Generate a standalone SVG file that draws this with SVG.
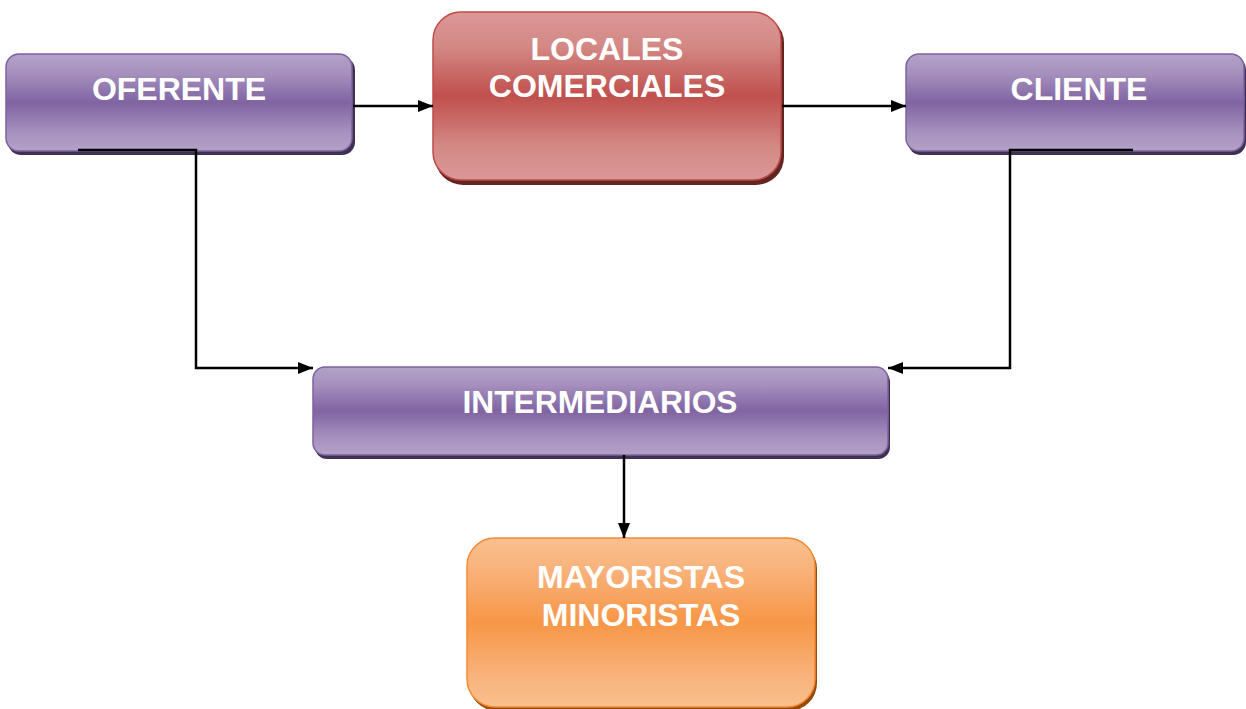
<svg xmlns="http://www.w3.org/2000/svg" width="1246" height="709" viewBox="0 0 1246 709">
<defs>
<linearGradient id="gPurple" x1="0" y1="0" x2="0" y2="1">
<stop offset="0" stop-color="#b3a2c8"/>
<stop offset="0.2" stop-color="#a690be"/>
<stop offset="0.5" stop-color="#8064a2"/>
<stop offset="0.8" stop-color="#a690be"/>
<stop offset="1" stop-color="#b3a2c8"/>
</linearGradient>
<linearGradient id="gRed" x1="0" y1="0" x2="0" y2="1">
<stop offset="0" stop-color="#db9896"/>
<stop offset="0.2" stop-color="#d38985"/>
<stop offset="0.5" stop-color="#c0504d"/>
<stop offset="0.8" stop-color="#d38985"/>
<stop offset="1" stop-color="#db9896"/>
</linearGradient>
<linearGradient id="gOrange" x1="0" y1="0" x2="0" y2="1">
<stop offset="0" stop-color="#f9c08f"/>
<stop offset="0.2" stop-color="#f8b179"/>
<stop offset="0.5" stop-color="#f79646"/>
<stop offset="0.8" stop-color="#f8b179"/>
<stop offset="1" stop-color="#f9c08f"/>
</linearGradient>
<marker id="arrow" markerWidth="15" markerHeight="12" refX="15" refY="6" orient="auto" markerUnits="userSpaceOnUse">
<path d="M0,0 L15,6 L0,12 Z" fill="#000"/>
</marker>
</defs>
<style>
.lbl{font-family:"Liberation Sans",Arial,sans-serif;font-weight:bold;font-size:32px;fill:#fff;text-anchor:middle}
.conn{fill:none;stroke:#000;stroke-width:2.5}
.pShadow{fill:#3f3151}
.rShadow{fill:#632523}
.oShadow{fill:#984807}
.pBox{fill:url(#gPurple);stroke:#7d61a0;stroke-width:1.5}
.rBox{fill:url(#gRed);stroke:#be4b48;stroke-width:1.5}
.oBox{fill:url(#gOrange);stroke:#f38b35;stroke-width:1.5}
</style>
<rect width="1246" height="709" fill="#fff"/>

<g id="oferente">
<rect class="pShadow" x="8" y="57" width="347" height="98" rx="13"/>
<rect class="pBox" x="6" y="54" width="346" height="97" rx="13"/>
<text class="lbl" x="179" y="100">OFERENTE</text>
</g>

<g id="locales">
<rect class="rShadow" x="435" y="15" width="349" height="170" rx="28"/>
<rect class="rBox" x="433" y="12" width="348" height="168" rx="28"/>
<text class="lbl" x="607" y="60">LOCALES</text>
<text class="lbl" x="607" y="97">COMERCIALES</text>
</g>

<g id="cliente">
<rect class="pShadow" x="908" y="57" width="338" height="98" rx="13"/>
<rect class="pBox" x="906" y="54" width="338" height="97" rx="13"/>
<text class="lbl" x="1079" y="100">CLIENTE</text>
</g>

<g id="intermediarios">
<rect class="pShadow" x="315" y="370" width="575" height="89" rx="12"/>
<rect class="pBox" x="313" y="367" width="575" height="88" rx="12"/>
<text class="lbl" x="600" y="413" textLength="275" lengthAdjust="spacingAndGlyphs">INTERMEDIARIOS</text>
</g>

<g id="mayoristas">
<rect class="oShadow" x="469" y="541" width="348" height="170" rx="28"/>
<rect class="oBox" x="467" y="538" width="348" height="169" rx="28"/>
<text class="lbl" x="641" y="588">MAYORISTAS</text>
<text class="lbl" x="641" y="626">MINORISTAS</text>
</g>

<g id="connectors">
<path class="conn" d="M353,106 H433" marker-end="url(#arrow)"/>
<path class="conn" d="M782,106 H906" marker-end="url(#arrow)"/>
<path class="conn" d="M78,150 H196 V368 H313" marker-end="url(#arrow)"/>
<path class="conn" d="M1133,150 H1010 V368 H888" marker-end="url(#arrow)"/>
<path class="conn" d="M624,455 V538" marker-end="url(#arrow)"/>
</g>
</svg>
